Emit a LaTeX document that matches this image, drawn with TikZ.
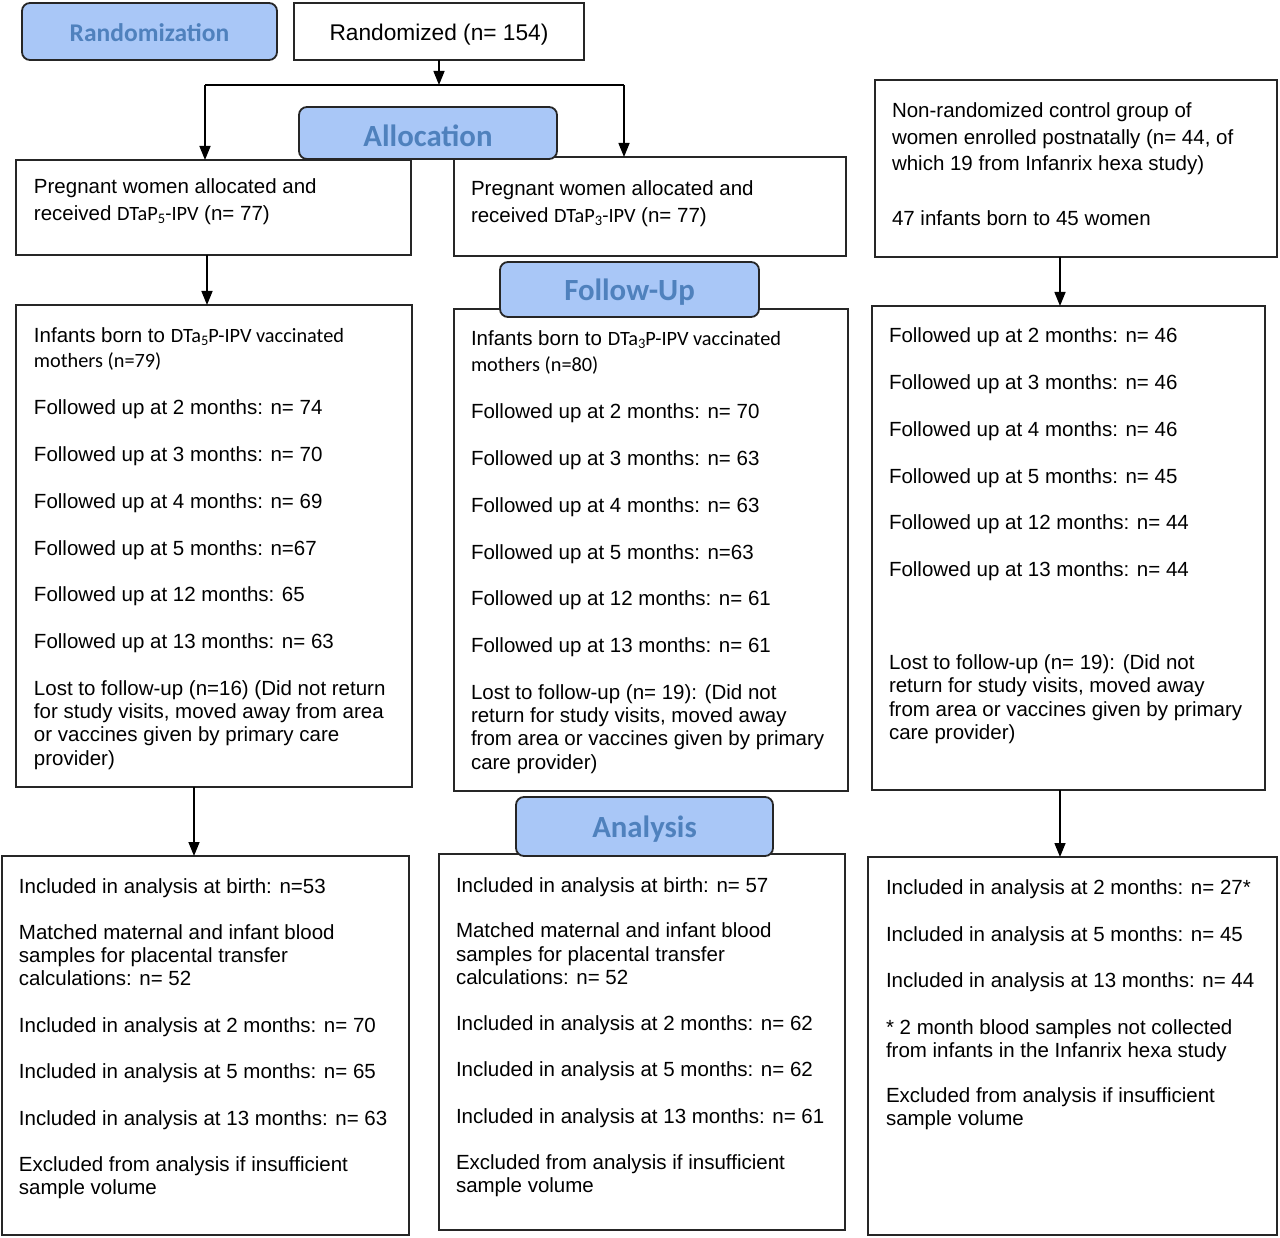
\documentclass[tikz,border=0pt]{standalone}
\usepackage{fontspec}
\setmainfont{Liberation Sans}
\newfontfamily\calfont{Carlito}
\usetikzlibrary{arrows.meta}
\definecolor{labfill}{RGB}{169,199,247}
\definecolor{labtext}{RGB}{79,129,189}
\newcommand{\sbs}[1]{\raisebox{-3pt}{\fontsize{14.5}{14.5}\selectfont #1}}
\newcommand{\cb}[1]{{\calfont\fontsize{20.3}{23.3}\selectfont #1}}
\newcommand{\bodytxt}[1]{\parbox[t]{420pt}{\raggedright\fontsize{20.5}{23.3}\selectfont #1}}
\begin{document}
\begin{tikzpicture}[x=1pt,y=-1pt,
  box/.style={draw=black!85, line width=1.5pt, fill=white, anchor=north west, inner sep=0pt, outer sep=0pt},
  lab/.style={draw=black!85, line width=1.8pt, rounded corners=8pt, fill=labfill, text=labtext, anchor=north west, inner sep=0pt, outer sep=0pt},
  labtxt/.style={inner sep=0pt, text=labtext, font=\calfont\bfseries\fontsize{30.8}{31}\selectfont, yshift=-3pt},
  txt/.style={anchor=base west, inner sep=0pt, outer sep=0pt},
  arr/.style={line width=1.5pt, -{Triangle[length=14pt,width=11pt]}},
  ln/.style={line width=1.5pt}]
\useasboundingbox (0,0) rectangle (1280,1238);

% ---- boxes
\node[box, minimum width=290pt, minimum height=57pt] (randd) at (294,3) {};
\node[box, minimum width=395pt, minimum height=95pt] (a1) at (16,160) {};
\node[box, minimum width=392pt, minimum height=99pt] (b1) at (454,157) {};
\node[box, minimum width=402pt, minimum height=177pt] (c1) at (875,80) {};
\node[box, minimum width=396pt, minimum height=482pt] (a2) at (16,305) {};
\node[box, minimum width=394pt, minimum height=482pt] (b2) at (454,309) {};
\node[box, minimum width=393pt, minimum height=484pt] (c2) at (872,306) {};
\node[box, minimum width=407pt, minimum height=379pt] (a3) at (2,856) {};
\node[box, minimum width=406pt, minimum height=376pt] (b3) at (439,854) {};
\node[box, minimum width=409pt, minimum height=378pt] (c3) at (868,857) {};

% ---- phase labels
\node[lab, minimum width=255pt, minimum height=57pt] (rand) at (22,3) {};
\node[lab, minimum width=258pt, minimum height=52pt] (alloc) at (299,107) {};
\node[lab, minimum width=259pt, minimum height=55pt] (follow) at (500,262) {};
\node[lab, minimum width=257pt, minimum height=59pt] (analysis) at (516,797) {};
\node[labtxt, font=\calfont\bfseries\fontsize{25.5}{26}\selectfont, yshift=2pt] (randt) at (rand.center) {Randomization};
\node[labtxt] (alloct) at (alloc.center) {Allocation};
\node[labtxt] (followt) at (follow.center) {Follow-Up};
\node[labtxt] (analysist) at (analysis.center) {Analysis};

\node[inner sep=0pt, font=\fontsize{22.7}{24}\selectfont, yshift=-3pt] (randdt) at (randd.center) {Randomized (n= 154)};

% ---- texts
\node[txt] (a1t) at (34,194) {\bodytxt{Pregnant women allocated and\\[3.7pt]
received \cb{DTaP\sbs{5}-IPV} (n= 77)}};
\node[txt] (b1t) at (471,196) {\bodytxt{Pregnant women allocated and\\[3.7pt]
received \cb{DTaP\sbs{3}-IPV} (n= 77)}};
\node[txt] (c1t) at (892,118) {\bodytxt{Non-randomized control group of\\[3.2pt]
women enrolled postnatally (n= 44, of\\[3.2pt]
which 19 from Infanrix hexa study)\\[31.7pt]
47 infants born to 45 women}};

\node[txt] (a2t) at (34,343) {\bodytxt{Infants born to \cb{DTa\sbs{5}P-IPV vaccinated}\\[1.7pt]
\cb{mothers (n=79)}\\[23.7pt]
Followed up at 2 months: n= 74\\[23.4pt]
Followed up at 3 months: n= 70\\[23.4pt]
Followed up at 4 months: n= 69\\[23.4pt]
Followed up at 5 months: n=67\\[23.4pt]
Followed up at 12 months: 65\\[23.4pt]
Followed up at 13 months: n= 63\\[23.4pt]
Lost to follow-up (n=16) (Did not return\\
for study visits, moved away from area\\
or vaccines given by primary care\\
provider)}};

\node[txt] (b2t) at (471,346) {\bodytxt{Infants born to \cb{DTa\sbs{3}P-IPV vaccinated}\\[2.7pt]
\cb{mothers (n=80)}\\[23.7pt]
Followed up at 2 months: n= 70\\[23.4pt]
Followed up at 3 months: n= 63\\[23.4pt]
Followed up at 4 months: n= 63\\[23.4pt]
Followed up at 5 months: n=63\\[23.4pt]
Followed up at 12 months: n= 61\\[23.4pt]
Followed up at 13 months: n= 61\\[23.4pt]
Lost to follow-up (n= 19): (Did not\\
return for study visits, moved away\\
from area or vaccines given by primary\\
care provider)}};

\node[txt] (c2t) at (889,343) {\bodytxt{Followed up at 2 months: n= 46\\[23.4pt]
Followed up at 3 months: n= 46\\[23.4pt]
Followed up at 4 months: n= 46\\[23.4pt]
Followed up at 5 months: n= 45\\[23.4pt]
Followed up at 12 months: n= 44\\[23.4pt]
Followed up at 13 months: n= 44\\[69.7pt]
Lost to follow-up (n= 19): (Did not\\
return for study visits, moved away\\
from area or vaccines given by primary\\
care provider)}};

\node[txt] (a3t) at (19,893) {\bodytxt{Included in analysis at birth: n=53\\[22.7pt]
Matched maternal and infant blood\\
samples for placental transfer\\
calculations: n= 52\\[23.7pt]
Included in analysis at 2 months: n= 70\\[22.7pt]
Included in analysis at 5 months: n= 65\\[23.7pt]
Included in analysis at 13 months: n= 63\\[22.7pt]
Excluded from analysis if insufficient\\
sample volume}};

\node[txt] (b3t) at (456,892) {\bodytxt{Included in analysis at birth: n= 57\\[22.4pt]
Matched maternal and infant blood\\
samples for placental transfer\\
calculations: n= 52\\[23.2pt]
Included in analysis at 2 months: n= 62\\[22.7pt]
Included in analysis at 5 months: n= 62\\[23.4pt]
Included in analysis at 13 months: n= 61\\[22.7pt]
Excluded from analysis if insufficient\\
sample volume}};

\node[txt] (c3t) at (886,894) {\bodytxt{Included in analysis at 2 months: n= 27*\\[23.7pt]
Included in analysis at 5 months: n= 45\\[22.7pt]
Included in analysis at 13 months: n= 44\\[23.7pt]
* 2 month blood samples not collected\\
from infants in the Infanrix hexa study\\[21.7pt]
Excluded from analysis if insufficient\\
sample volume}};

% ---- connectors
\coordinate (split) at (439,85);
\coordinate (splitL) at (205,85);
\coordinate (splitR) at (624,85);
\coordinate (xa) at (207,0);
\coordinate (xa2) at (194,0);
\coordinate (xc) at (1060,0);
\draw[arr] (randd.south -| split) -- (split);
\draw[ln] (splitL) -- (splitR);
\draw[arr] (splitL) -- (splitL |- a1.north);
\draw[arr] (splitR) -- (splitR |- b1.north);
\draw[arr] (a1.south -| xa) -- (a2.north -| xa);
\draw[arr] (c1.south -| xc) -- (c2.north -| xc);
\draw[arr] (a2.south -| xa2) -- (a3.north -| xa2);
\draw[arr] (c2.south -| xc) -- (c3.north -| xc);
\end{tikzpicture}
\end{document}
